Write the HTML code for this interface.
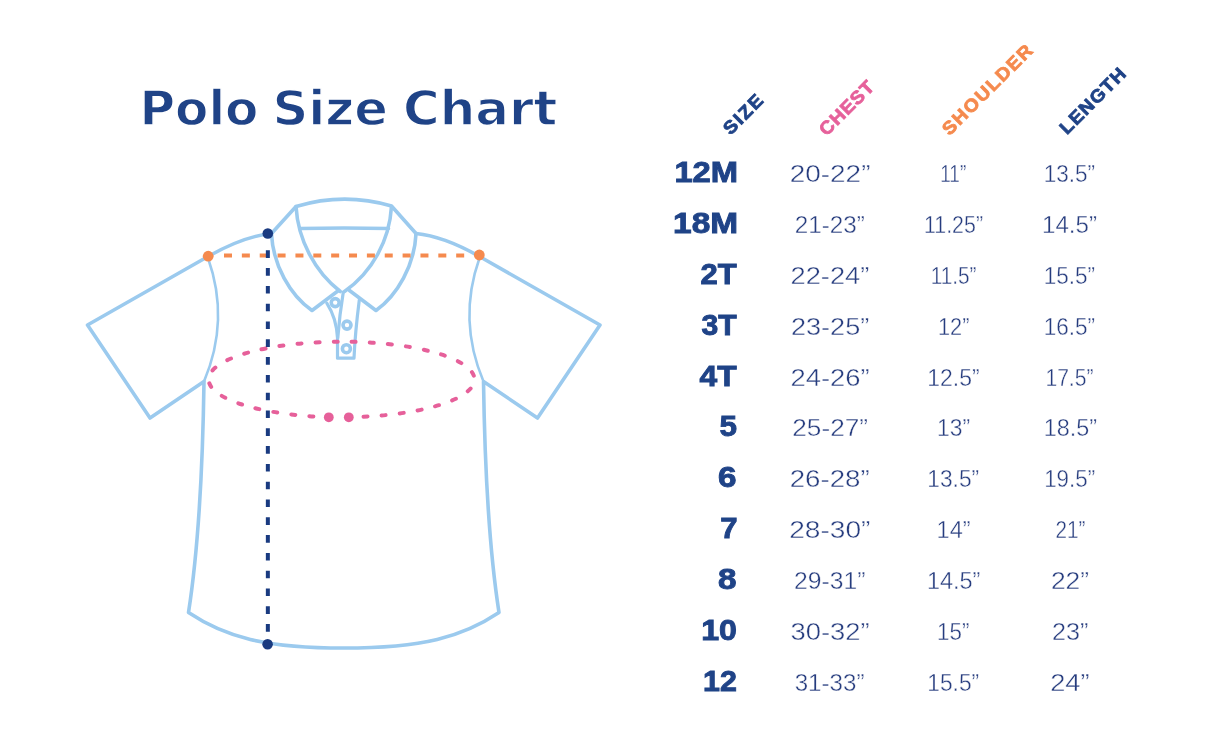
<!DOCTYPE html>
<html><head><meta charset="utf-8"><title>Polo Size Chart</title>
<style>
html,body{margin:0;padding:0;background:#fff;}
body{width:1206px;height:740px;overflow:hidden;position:relative;}
svg{position:absolute;left:0;top:0;display:block;}
.t{font-family:"DejaVu Sans","Liberation Sans",sans-serif;font-weight:bold;}
.sz{font-family:"Liberation Sans",sans-serif;font-weight:bold;}
.v{font-family:"Liberation Sans",sans-serif;font-weight:normal;}
.h{font-family:"Liberation Sans",sans-serif;font-weight:bold;}
</style></head>
<body>
<svg width="1206" height="740" viewBox="0 0 1206 740">
<!-- shirt outline -->
<g fill="none" stroke="#9bcaee" stroke-width="3.6" stroke-linejoin="round" stroke-linecap="round">
  <path d="M271.5 233.5 Q243.4 236.3 208 256.5 L87.5 325 L150 418 L204 381.5 C203 450 199 545 188.5 612.5 C225 637 265 648 343.75 648 C422.5 648 462.5 637 499 612.5 C488.5 545 484.5 450 483.5 381.5 L537.5 418 L600 325 L479.5 256.5 Q444.1 236.3 416 233.5"/>
  <path d="M271.5 233.5 L296 206.5 Q344 192 391.5 206 L416 233.5"/>
  <path d="M299.8 228.5 Q344 227.5 388.5 228.5"/>
  <path d="M296 206.5 C298 240 315 272 340.3 291.5"/>
  <path d="M391.5 206.5 C389.5 240 372.5 272 344.5 291.5"/>
  <path d="M271.5 234 C273 265 290 295 312 310.5 L338.5 290.5"/>
  <path d="M416 234 C414.5 265 397.5 295 376 310.5 L349.5 290.5"/>
  <path d="M326.8 303.2 C332.5 312 336.8 324 337.5 338 L337.5 358.2 L354 358.2 C355 335 357 318 359.3 300" stroke-width="3.2"/>
  <path d="M343.3 292 C341 306 339 322 337.8 338" stroke-width="3.2"/>
</g>
<g fill="none" stroke="#9bcaee">
  <path d="M208 258 Q230 320 204 381.5" stroke-width="2.6"/>
  <path d="M479.5 258 Q457.5 320 483.5 381.5" stroke-width="2.6"/>
  <circle cx="335.2" cy="302.6" r="4" stroke-width="3.6"/>
  <circle cx="347" cy="325.1" r="4" stroke-width="3.6"/>
  <circle cx="346.4" cy="348.7" r="4" stroke-width="3.6"/>
</g>
<!-- orange shoulder line -->
<path d="M224 255.5 H464.5" stroke="#f58a4e" stroke-width="4" stroke-dasharray="8 9.86" fill="none"/>
<circle cx="208.2" cy="256.2" r="5.4" fill="#f58a4e"/>
<circle cx="479.3" cy="255" r="5.4" fill="#f58a4e"/>
<!-- pink chest ellipse -->
<ellipse cx="341.54" cy="379.46" rx="132.9" ry="37.8" pathLength="578.76" fill="none" stroke="#e6609a" stroke-width="4" stroke-linecap="round" stroke-dasharray="4.00 14.09 4.00 14.09 4.00 14.09 4.00 14.09 4.00 14.09 4.00 14.09 4.00 50.26 4.00 14.09 4.00 14.09 4.00 14.09 4.00 14.09 4.00 14.09 4.00 14.09 4.00 14.09 4.00 14.09 4.00 14.09 4.00 14.09 4.00 14.09 4.00 14.09 4.00 14.09 4.00 14.09 4.00 14.09 4.00 14.09 4.00 14.09 4.00 14.09 4.00 14.09 4.00 14.09 4.00 14.09 4.00 14.09 4.00 14.09" stroke-dashoffset="568.76"/>
<circle cx="328.8" cy="417.3" r="4.9" fill="#e6609a"/>
<circle cx="348.8" cy="417.3" r="4.9" fill="#e6609a"/>
<!-- navy length line -->
<path d="M267.85 250.3 V632" stroke="#193a80" stroke-width="4" stroke-dasharray="7.6 10.2" fill="none"/>
<circle cx="267.8" cy="233.5" r="5.3" fill="#193a80"/>
<circle cx="267.6" cy="644.2" r="5.3" fill="#193a80"/>
<text class="t" y="125" font-size="48.4" fill="#1f4387" stroke="#fff" stroke-width="1.4"><tspan x="139.50" textLength="119.00" lengthAdjust="spacingAndGlyphs">Polo</tspan> <tspan x="272.50" textLength="115.50" lengthAdjust="spacingAndGlyphs">Size</tspan> <tspan x="403.00" textLength="154.50" lengthAdjust="spacingAndGlyphs">Chart</tspan></text>
<text class="h" x="0" y="0" font-size="18.3" textLength="45.83013403381109" lengthAdjust="spacing" fill="#1f4387" stroke="#1f4387" stroke-width="0.8" transform="translate(730.4000000000005 135.80000000000007) rotate(-45) scale(1.05 1)">SIZE</text>
<text class="h" x="0" y="0" font-size="18.3" textLength="65.60449922543292" lengthAdjust="spacing" fill="#e6609a" stroke="#e6609a" stroke-width="0.8" transform="translate(826.5999999999995 136.80000000000007) rotate(-45) scale(1.05 1)">CHEST</text>
<text class="h" x="0" y="0" font-size="18.3" textLength="113.57445948676462" lengthAdjust="spacing" fill="#f58a4e" stroke="#f58a4e" stroke-width="0.8" transform="translate(949.4000000000005 136.19999999999993) rotate(-45) scale(1.05 1)">SHOULDER</text>
<text class="h" x="0" y="0" font-size="18.3" textLength="80.80824408971485" lengthAdjust="spacing" fill="#1f4387" stroke="#1f4387" stroke-width="0.8" transform="translate(1067 135.19999999999993) rotate(-45) scale(1.05 1)">LENGTH</text>
<g class="sz" font-size="29.0" fill="#1f4387" stroke="#1f4387" stroke-width="0.9">
<text x="674.40" y="182.00" textLength="63.70" lengthAdjust="spacingAndGlyphs">12M</text>
<text x="673.10" y="232.88" textLength="65.00" lengthAdjust="spacingAndGlyphs">18M</text>
<text x="700.40" y="283.76" textLength="36.20" lengthAdjust="spacingAndGlyphs">2T</text>
<text x="701.40" y="334.64" textLength="35.20" lengthAdjust="spacingAndGlyphs">3T</text>
<text x="699.50" y="385.52" textLength="37.10" lengthAdjust="spacingAndGlyphs">4T</text>
<text x="719.50" y="436.40" textLength="17.50" lengthAdjust="spacingAndGlyphs">5</text>
<text x="718.00" y="487.28" textLength="18.50" lengthAdjust="spacingAndGlyphs">6</text>
<text x="720.20" y="538.16" textLength="17.30" lengthAdjust="spacingAndGlyphs">7</text>
<text x="718.00" y="589.04" textLength="18.50" lengthAdjust="spacingAndGlyphs">8</text>
<text x="701.20" y="639.92" textLength="35.80" lengthAdjust="spacingAndGlyphs">10</text>
<text x="703.10" y="690.80" textLength="33.80" lengthAdjust="spacingAndGlyphs">12</text>
</g>
<g class="v" font-size="24.7" fill="#263c7e" stroke="#fff" stroke-width="0.4">
<text x="789.70" y="182.00" textLength="80.80" lengthAdjust="spacingAndGlyphs">20-22”</text>
<text x="794.70" y="232.88" textLength="70.20" lengthAdjust="spacingAndGlyphs">21-23”</text>
<text x="790.50" y="283.76" textLength="78.80" lengthAdjust="spacingAndGlyphs">22-24”</text>
<text x="790.90" y="334.64" textLength="78.40" lengthAdjust="spacingAndGlyphs">23-25”</text>
<text x="790.50" y="385.52" textLength="79.20" lengthAdjust="spacingAndGlyphs">24-26”</text>
<text x="792.30" y="436.40" textLength="75.70" lengthAdjust="spacingAndGlyphs">25-27”</text>
<text x="789.70" y="487.28" textLength="80.00" lengthAdjust="spacingAndGlyphs">26-28”</text>
<text x="789.20" y="538.16" textLength="81.20" lengthAdjust="spacingAndGlyphs">28-30”</text>
<text x="794.00" y="589.04" textLength="71.40" lengthAdjust="spacingAndGlyphs">29-31”</text>
<text x="790.50" y="639.92" textLength="79.20" lengthAdjust="spacingAndGlyphs">30-32”</text>
<text x="794.70" y="690.80" textLength="69.80" lengthAdjust="spacingAndGlyphs">31-33”</text>
</g>
<g class="v" font-size="24.7" fill="#263c7e" stroke="#fff" stroke-width="0.4">
<text x="940.20" y="182.00" textLength="26.10" lengthAdjust="spacingAndGlyphs">11”</text>
<text x="924.00" y="232.88" textLength="59.00" lengthAdjust="spacingAndGlyphs">11.25”</text>
<text x="930.70" y="283.76" textLength="45.80" lengthAdjust="spacingAndGlyphs">11.5”</text>
<text x="937.90" y="334.64" textLength="31.50" lengthAdjust="spacingAndGlyphs">12”</text>
<text x="927.30" y="385.52" textLength="52.30" lengthAdjust="spacingAndGlyphs">12.5”</text>
<text x="937.10" y="436.40" textLength="33.10" lengthAdjust="spacingAndGlyphs">13”</text>
<text x="927.30" y="487.28" textLength="51.90" lengthAdjust="spacingAndGlyphs">13.5”</text>
<text x="936.60" y="538.16" textLength="34.00" lengthAdjust="spacingAndGlyphs">14”</text>
<text x="926.90" y="589.04" textLength="53.50" lengthAdjust="spacingAndGlyphs">14.5”</text>
<text x="937.10" y="639.92" textLength="32.30" lengthAdjust="spacingAndGlyphs">15”</text>
<text x="927.30" y="690.80" textLength="51.90" lengthAdjust="spacingAndGlyphs">15.5”</text>
</g>
<g class="v" font-size="24.7" fill="#263c7e" stroke="#fff" stroke-width="0.4">
<text x="1043.70" y="182.00" textLength="51.40" lengthAdjust="spacingAndGlyphs">13.5”</text>
<text x="1042.00" y="232.88" textLength="55.00" lengthAdjust="spacingAndGlyphs">14.5”</text>
<text x="1043.70" y="283.76" textLength="51.40" lengthAdjust="spacingAndGlyphs">15.5”</text>
<text x="1043.70" y="334.64" textLength="51.40" lengthAdjust="spacingAndGlyphs">16.5”</text>
<text x="1045.40" y="385.52" textLength="48.10" lengthAdjust="spacingAndGlyphs">17.5”</text>
<text x="1043.70" y="436.40" textLength="53.30" lengthAdjust="spacingAndGlyphs">18.5”</text>
<text x="1044.20" y="487.28" textLength="50.90" lengthAdjust="spacingAndGlyphs">19.5”</text>
<text x="1055.40" y="538.16" textLength="29.90" lengthAdjust="spacingAndGlyphs">21”</text>
<text x="1050.90" y="589.04" textLength="38.20" lengthAdjust="spacingAndGlyphs">22”</text>
<text x="1051.90" y="639.92" textLength="36.50" lengthAdjust="spacingAndGlyphs">23”</text>
<text x="1050.20" y="690.80" textLength="39.40" lengthAdjust="spacingAndGlyphs">24”</text>
</g>
</svg>
</body></html>
